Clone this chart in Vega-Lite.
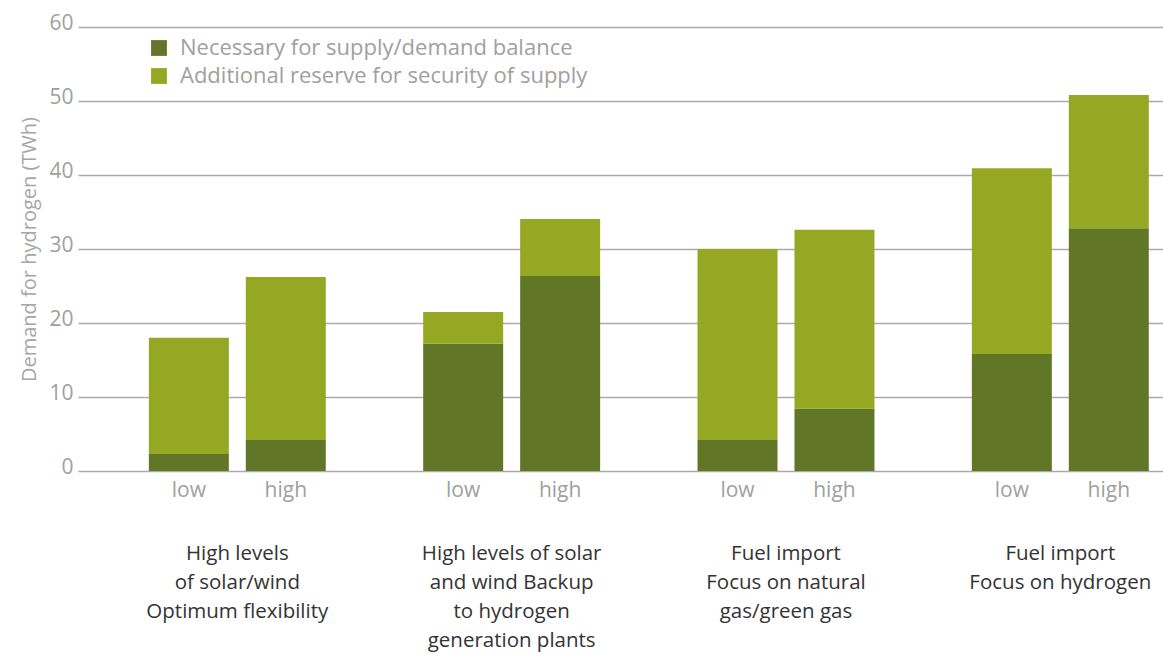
{
  "$schema": "https://vega.github.io/schema/vega-lite/v6.json",
  "autosize": {"type": "none"},
  "padding": {"left": 78, "top": 27, "right": 0, "bottom": 186},
  "width": 1085,
  "height": 444,
  "background": "white",
  "config": {
    "font": "Open Sans",
    "view": {"stroke": null}
  },
  "data": {
    "values": [
      {"group": "High levels|of solar/wind|Optimum flexibility", "level": "low", "series": "Necessary for supply/demand balance", "value": 2.3, "order": 1},
      {"group": "High levels|of solar/wind|Optimum flexibility", "level": "low", "series": "Additional reserve for security of supply", "value": 15.7, "order": 2},
      {"group": "High levels|of solar/wind|Optimum flexibility", "level": "high", "series": "Necessary for supply/demand balance", "value": 4.2, "order": 1},
      {"group": "High levels|of solar/wind|Optimum flexibility", "level": "high", "series": "Additional reserve for security of supply", "value": 22.0, "order": 2},
      {"group": "High levels of solar|and wind Backup|to hydrogen|generation plants", "level": "low", "series": "Necessary for supply/demand balance", "value": 17.2, "order": 1},
      {"group": "High levels of solar|and wind Backup|to hydrogen|generation plants", "level": "low", "series": "Additional reserve for security of supply", "value": 4.3, "order": 2},
      {"group": "High levels of solar|and wind Backup|to hydrogen|generation plants", "level": "high", "series": "Necessary for supply/demand balance", "value": 26.35, "order": 1},
      {"group": "High levels of solar|and wind Backup|to hydrogen|generation plants", "level": "high", "series": "Additional reserve for security of supply", "value": 7.7, "order": 2},
      {"group": "Fuel import|Focus on natural|gas/green gas", "level": "low", "series": "Necessary for supply/demand balance", "value": 4.2, "order": 1},
      {"group": "Fuel import|Focus on natural|gas/green gas", "level": "low", "series": "Additional reserve for security of supply", "value": 25.8, "order": 2},
      {"group": "Fuel import|Focus on natural|gas/green gas", "level": "high", "series": "Necessary for supply/demand balance", "value": 8.4, "order": 1},
      {"group": "Fuel import|Focus on natural|gas/green gas", "level": "high", "series": "Additional reserve for security of supply", "value": 24.2, "order": 2},
      {"group": "Fuel import|Focus on hydrogen", "level": "low", "series": "Necessary for supply/demand balance", "value": 15.8, "order": 1},
      {"group": "Fuel import|Focus on hydrogen", "level": "low", "series": "Additional reserve for security of supply", "value": 25.1, "order": 2},
      {"group": "Fuel import|Focus on hydrogen", "level": "high", "series": "Necessary for supply/demand balance", "value": 32.8, "order": 1},
      {"group": "Fuel import|Focus on hydrogen", "level": "high", "series": "Additional reserve for security of supply", "value": 18.0, "order": 2}
    ]
  },
  "encoding": {
    "x": {
      "field": "group",
      "type": "nominal",
      "sort": null,
      "scale": {"paddingInner": 0.355, "paddingOuter": 0.155, "align": 0.833},
      "axis": {
        "title": null,
        "labelAngle": 0,
        "labelExpr": "split(datum.label, '|')",
        "labelFont": "Open Sans",
        "labelFontSize": 20.5,
        "labelColor": "#333333",
        "labelLineHeight": 29,
        "labelPadding": 72,
        "labelBaseline": "top",
        "labelLimit": 300,
        "domain": false,
        "ticks": false
      }
    },
    "xOffset": {
      "field": "level",
      "type": "nominal",
      "sort": ["low", "high"],
      "scale": {"paddingInner": 0.175, "paddingOuter": 0}
    }
  },
  "layer": [
    {
      "mark": {"type": "bar"},
      "encoding": {
        "y": {
          "field": "value",
          "type": "quantitative",
          "stack": "zero",
          "scale": {"domain": [0, 60], "nice": false},
          "axis": {
            "values": [0, 10, 20, 30, 40, 50, 60],
            "title": "Demand for hydrogen (TWh)",
            "titleFont": "Open Sans",
            "titleFontSize": 20,
            "titleFontWeight": "normal",
            "titleColor": "#a6a6a6",
            "titlePadding": 9,
            "labelFont": "Open Sans",
            "labelFontSize": 21,
            "labelColor": "#a0a0a0",
            "labelPadding": 5,
            "labelBaseline": "middle",
            "labelOffset": -4,
            "ticks": true,
            "tickSize": 0,
            "domain": false,
            "grid": true,
            "gridColor": "#aaaaaa",
            "gridWidth": 1.5
          }
        },
        "color": {
          "field": "series",
          "type": "nominal",
          "scale": {
            "domain": ["Necessary for supply/demand balance", "Additional reserve for security of supply"],
            "range": ["#627628", "#94a823"]
          },
          "legend": {
            "title": null,
            "orient": "none",
            "legendX": 70,
            "legendY": 10,
            "symbolType": "square",
            "symbolSize": 250,
            "symbolStrokeWidth": 0,
            "symbolOpacity": 1,
            "labelFont": "Open Sans",
            "labelFontSize": 22,
            "labelColor": "#a0a0a0",
            "labelLimit": 500,
            "rowPadding": 6,
            "labelOffset": 10
          }
        },
        "order": {"field": "order", "type": "quantitative"}
      }
    },
    {
      "transform": [{"filter": "datum.order == 1"}],
      "mark": {"type": "text", "baseline": "top", "dy": 9, "fontSize": 21, "color": "#a0a0a0", "font": "Open Sans"},
      "encoding": {
        "y": {"datum": 0},
        "text": {"field": "level"}
      }
    }
  ]
}
